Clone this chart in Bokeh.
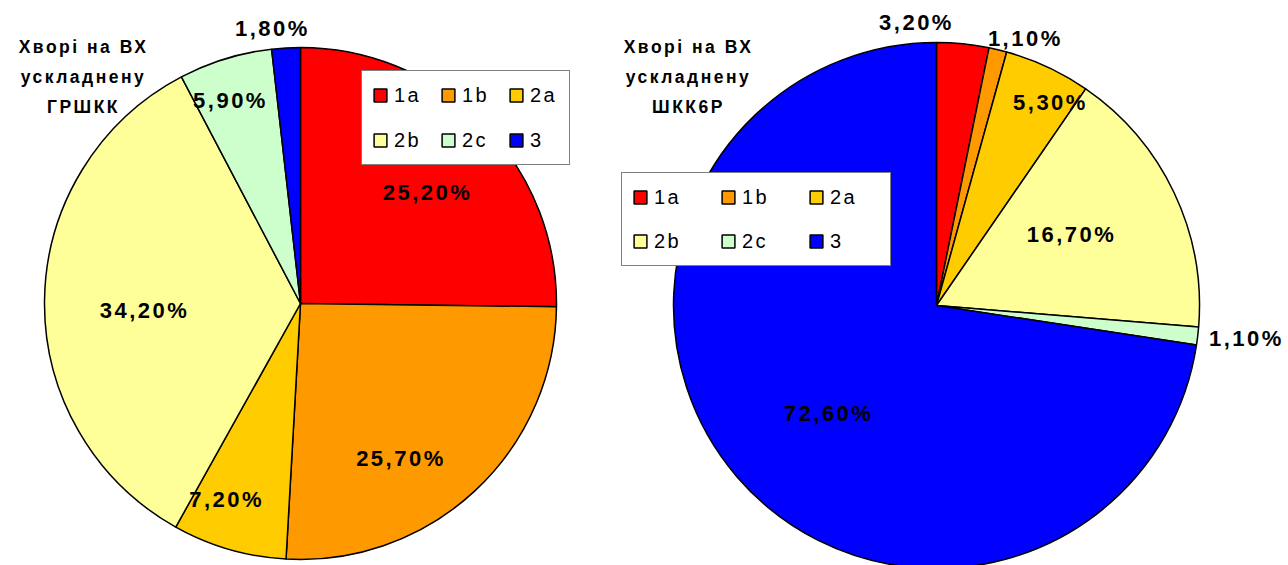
import numpy as np
from bokeh.plotting import figure
from bokeh.models import Range1d, ColumnDataSource, Legend, LegendItem, InlineStyleSheet
from bokeh.embed import file_html
from bokeh.resources import INLINE
from bokeh.core.properties import value

# Patient groups and their shares (%) in the two cohorts
groups = ["1a", "1b", "2a", "2b", "2c", "3"]
colors = ["#FF0000", "#FF9900", "#FFCC00", "#FFFF99", "#CCFFCC", "#0000FF"]
grshkk = [25.2, 25.7, 7.2, 34.2, 5.9, 1.8]
shkk6r = [3.2, 1.1, 5.3, 16.7, 1.1, 72.6]
title_left = ["Хворі на ВХ", "ускладнену", "ГРШКК"]
title_right = ["Хворі на ВХ", "ускладнену", "ШКК6Р"]

W, H = 1288, 565
FONT = "Liberation Sans"
TRACK = 2.5  # letter spacing, px

p = figure(width=W, height=H, output_backend="svg", toolbar_location=None,
           x_range=Range1d(0, W), y_range=Range1d(0, H), min_border=0,
           outline_line_color=None, background_fill_color="white")
p.axis.visible = False
p.grid.visible = False

# wider tracking for the text drawn on the canvas (inherited by the svg text)
p.stylesheets.append(InlineStyleSheet(css=f":host {{ letter-spacing: {TRACK}px; }}"))


def centred(xs, texts):
    # the tracking is added after each glyph, so pull centred text back by half of it
    return [x - len(t) * TRACK / 2 for x, t in zip(xs, texts)]


def pie(vals, cx, cy, r, fracs, nudges):
    v = np.array(vals, dtype=float)
    cum = np.concatenate([[0.0], np.cumsum(v) / v.sum()])
    start = np.pi / 2 - 2 * np.pi * cum[:-1]
    end = np.pi / 2 - 2 * np.pi * cum[1:]
    src = ColumnDataSource(dict(start=start, end=end, color=colors, group=groups))
    rend = p.wedge(x=cx, y=cy, radius=r, start_angle="start", end_angle="end",
                   direction="clock", fill_color="color", line_color="black",
                   line_width=1.5, source=src)
    mid = (start + end) / 2 + np.radians(nudges)
    lx = cx + r * np.array(fracs) * np.cos(mid)
    ly = cy + r * np.array(fracs) * np.sin(mid)
    labels = [f"{x:.2f}%".replace(".", ",") for x in vals]
    p.text(x=centred(lx, labels), y=ly, text=labels, text_font=value(FONT),
           text_font_style="bold", text_font_size="22px", text_align="center",
           text_baseline="middle", text_color="black")
    return rend


r_left = pie(grshkk, 300, H - 303, 256,
             [0.66, 0.72, 0.82, 0.61, 0.84, 1.08],
             [-3.4, -10.0, -4.4, 3.3, 1.9, 2.6])
r_right = pie(shkk6r, 936, H - 305, 263,
              [1.08, 1.07, 0.885, 0.58, 1.185, 0.58],
              [9.8, -4.9, -4.3, 2.3, 0.6, 4.3])

# cohort titles
for cx, lines in ((83, title_left), (688, title_right)):
    p.text(x=centred([cx] * 3, lines), y=[H - 46, H - 76, H - 106], text=lines,
           text_font=value(FONT), text_font_style="bold", text_font_size="17.5px",
           text_align="center", text_baseline="alphabetic", text_color="black")


def legend(rend, loc, label_width, spacing):
    items = [LegendItem(label=g, renderers=[rend], index=i) for i, g in enumerate(groups)]
    leg = Legend(items=items, location=loc, ncols=3, orientation="horizontal",
                 glyph_width=16, glyph_height=16, label_standoff=6,
                 label_width=label_width, label_height=28, spacing=spacing,
                 padding=10, margin=0,
                 label_text_font=FONT, label_text_font_size="20px",
                 label_text_color="black",
                 border_line_color="black", border_line_width=1.5,
                 background_fill_color="white", background_fill_alpha=1.0)
    p.add_layout(leg)


legend(r_left, (361, H - 165), 29, 17)
legend(r_right, (621, H - 266), 50, 16)

open("out.html", "w").write(file_html(p, INLINE))
